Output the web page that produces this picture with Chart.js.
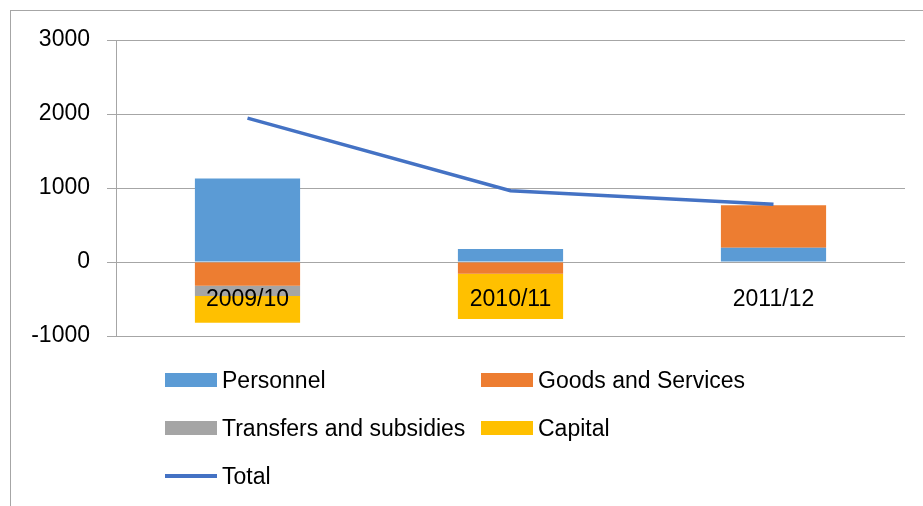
<!DOCTYPE html>
<html>
<head>
<meta charset="utf-8">
<script src="https://cdn.jsdelivr.net/npm/chart.js@4/dist/chart.umd.min.js"></script>
<style>
  html, body { margin: 0; padding: 0; background: #fff; overflow: hidden; }
  #wrap { position: relative; width: 923px; height: 506px; overflow: hidden; }
  #frame { position: absolute; left: 10px; top: 10px; width: 1000px; height: 600px;
           border: 1px solid #a6a6a6; box-sizing: border-box; }
  canvas { position: absolute; left: 0; top: 0; }
  .lg { position: absolute; font-family: "Liberation Sans", Arial, sans-serif; font-size: 23px;
        color: #000; white-space: nowrap; line-height: 26px; }
  .sw { position: absolute; }
</style>
</head>
<body>
<div id="wrap">
  <div id="frame"></div>
  <canvas id="c" width="923" height="506"></canvas>
  <div id="legend"></div>
</div>
<script>
const categories = ["2009/10", "2010/11", "2011/12"];
const personnel = [1130, 176, 193];
const goodsAndServices = [-320, -158, 573];
const transfersAndSubsidies = [-139, 0, 0];
const capital = [-361, -613, 0];
const total = [1945, 963, 780];
const yTicks = [-1000, 0, 1000, 2000, 3000];

const seriesNames = ["Personnel", "Goods and Services", "Transfers and subsidies", "Capital", "Total"];
const seriesColors = ["#5B9BD5", "#ED7D31", "#A5A5A5", "#FFC000", "#4472C4"];

const FONT = "'Liberation Sans', Arial, sans-serif";

const barData = [personnel, goodsAndServices, transfersAndSubsidies, capital];
const datasets = barData.map((d, i) => ({
  type: "bar",
  label: seriesNames[i],
  data: d,
  backgroundColor: seriesColors[i],
  borderWidth: 0,
  stack: "bars",
  order: 1,
  categoryPercentage: 1,
  barPercentage: 0.4
}));
datasets.push({
  type: "line",
  label: seriesNames[4],
  data: total,
  borderColor: seriesColors[4],
  backgroundColor: seriesColors[4],
  borderWidth: 3.5,
  pointRadius: 0,
  tension: 0,
  stack: "total",
  order: 0
});

new Chart(document.getElementById("c"), {
  data: { labels: categories, datasets },
  options: {
    responsive: false,
    animation: false,
    devicePixelRatio: 1,
    layout: { padding: { top: 40, bottom: 170, right: 18, left: 0 } },
    plugins: { legend: { display: false }, tooltip: { enabled: false } },
    scales: {
      x: {
        type: "category",
        stacked: true,
        position: { y: 0 },
        grid: { display: false, drawTicks: false },
        border: { display: false },
        ticks: { z: 1, color: "#000", font: { family: FONT, size: 23 }, padding: 24, maxRotation: 0 }
      },
      y: {
        stacked: true,
        min: -1000,
        max: 3000,
        afterBuildTicks: (s) => { s.ticks = yTicks.map(v => ({ value: v })); },
        afterFit: (s) => { s.width = 116; },
        grid: { color: "#a6a6a6", lineWidth: 1, tickLength: 9, drawTicks: true },
        border: { display: true, color: "#a6a6a6", width: 1 },
        ticks: { color: "#000", font: { family: FONT, size: 23 }, padding: 17,
                 callback: (v) => String(v) }
      }
    }
  }
});

// HTML legend laid out like the original (two columns, three rows)
const legendSlots = [
  { x: 165, y: 380 }, { x: 481, y: 380 },
  { x: 165, y: 428 }, { x: 481, y: 428 },
  { x: 165, y: 476 }
];
const legend = document.getElementById("legend");
seriesNames.forEach((name, i) => {
  const slot = legendSlots[i];
  const sw = document.createElement("div");
  sw.className = "sw";
  sw.style.left = slot.x + "px";
  sw.style.width = "52px";
  sw.style.background = seriesColors[i];
  if (i === 4) { sw.style.top = (slot.y - 2) + "px"; sw.style.height = "4px"; }
  else { sw.style.top = (slot.y - 7) + "px"; sw.style.height = "14px"; }
  legend.appendChild(sw);
  const t = document.createElement("div");
  t.className = "lg";
  t.textContent = name;
  t.style.left = (slot.x + 57) + "px";
  t.style.top = (slot.y - 13) + "px";
  legend.appendChild(t);
});
</script>
</body>
</html>
